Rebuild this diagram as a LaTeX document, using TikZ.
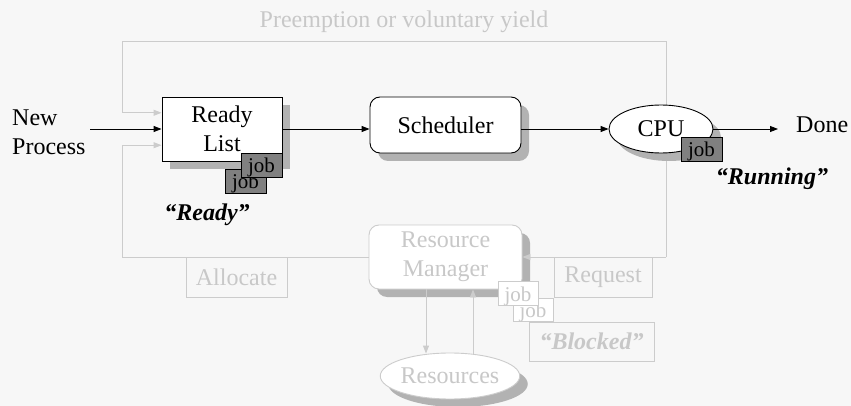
\documentclass[tikz,border=0pt]{standalone}
\usepackage{fontspec}
\setmainfont{Liberation Serif}
\usetikzlibrary{arrows.meta,shadows,calc,shapes.geometric}
\definecolor{bgc}{HTML}{F7F7F7}
\definecolor{faint}{HTML}{CCCCCC}
\definecolor{fainttext}{HTML}{C8C8C8}
\definecolor{shd}{HTML}{B2B2B2}
\definecolor{jobfill}{HTML}{808080}
\pgfdeclarelayer{bg}
\pgfdeclarelayer{wires}
\pgfsetlayers{bg,wires,main}

\begin{document}
\begin{tikzpicture}[x=1pt,y=-1pt,
  big/.style={font=\fontsize{24}{29}\selectfont},
  emph/.style={font=\fontsize{24}{29}\selectfont\bfseries\itshape},
  lbl/.style={big, inner sep=0pt},
  dropshd/.style={general shadow={fill=shd, shadow xshift=8pt, shadow yshift=-8pt}},
  procbox/.style={draw, line width=0.9pt, fill=white, big, align=center, inner sep=0pt, dropshd},
  fbox/.style={draw=faint, line width=0.9pt, fill=white, text=fainttext, big, align=center, inner sep=0pt},
  flabel/.style={draw=faint, line width=0.9pt, text=fainttext, big, inner sep=0pt},
  jobbox/.style={draw, line width=0.9pt, fill=jobfill, font=\fontsize{21}{21}\selectfont,
    inner sep=0pt, text height=16pt, text depth=0pt, minimum width=41, minimum height=24},
  fjob/.style={jobbox, draw=faint, fill=white, text=fainttext},
  arr/.style={line width=0.9pt, -{Triangle[length=8pt,width=6pt]}},
  farr/.style={draw=faint, line width=0.9pt, -{Triangle[length=8pt,width=6pt]}},
  fline/.style={draw=faint, line width=0.9pt}]

\begin{pgfonlayer}{bg}
  \fill[bgc] (0,0) rectangle (851,406);
\end{pgfonlayer}
\useasboundingbox (0,0) rectangle (851,406);

% main chain
\node[lbl, align=left, anchor=west] (np) at (12,132) {New\\Process};
\node[procbox, minimum width=120, minimum height=64] (rl) at (222,129) {Ready\\List};
\node[jobbox] (j2) at (245.5,181) {job};
\node[jobbox] (j1) at (261.5,165) {job};
\node[procbox, rounded corners=10pt, minimum width=151, minimum height=56] (sch) at (445.5,125) {Scheduler};
\node[procbox, ellipse, minimum width=104, minimum height=48] (cpu) at (661,129) {CPU};
\node[jobbox] (j3) at (701.5,149) {job};
\node[lbl, anchor=west] (done) at (796,125) {Done};
\coordinate (in) at (90,129);
\coordinate (out) at (778,129);

\node[lbl, emph, anchor=base] (rdy) at (207,220) {“Ready”};
\node[lbl, emph, anchor=base] (run) at (772,185) {“Running”};

\draw[arr] (in) -- (rl.west |- in);
\draw[arr] (rl.east |- in) -- (sch.west |- in);
\draw[arr] (sch.east |- cpu) -- (cpu.west);
\draw[arr] (cpu.east) -- (out);

% resource side
\node[lbl, text=fainttext, anchor=base] (pre) at (404,28) {Preemption or voluntary yield};
\node[fbox, rounded corners=10pt, dropshd, minimum width=153, minimum height=64] (rm) at (445.5,257) {Resource\\Manager};
\node[fbox, ellipse, dropshd, minimum width=126, minimum height=46] (res) at (450,376) {Resources};
\node[flabel, minimum width=101, minimum height=40] (alloc) at (236.5,277) {Allocate};
\node[flabel, minimum width=98, minimum height=40] (req) at (603,277) {Request};
\node[flabel, minimum width=125, minimum height=39, font=\fontsize{24}{29}\selectfont\bfseries\itshape] (blk) at (591.5,341.5) {“Blocked”};
\node[fjob, minimum width=40, minimum height=23] (fj2) at (533,309.5) {job};
\node[fjob, minimum width=40] (fj1) at (518,293) {job};

\coordinate (lt) at (122,41);
\coordinate (rt) at (666,41);
\coordinate (rb) at (666,257);
\coordinate (lb) at (122,257);
\coordinate (rlup) at ($(rl.north west)!0.25!(rl.south west)$);
\coordinate (rllo) at ($(rl.north west)!0.75!(rl.south west)$);

\begin{pgfonlayer}{wires}
  \draw[farr] (rb) -- (rt) -- (lt) -- (lt |- rlup) -- (rlup);
  \draw[farr] (rm.west) -- (lb) -- (lb |- rllo) -- (rllo);
\end{pgfonlayer}

\draw[farr] (rb) -- (rm.east |- rb);
\draw[farr] (rm.south -| 426,0) -- ($(res.north)+(-24,1)$);
\draw[farr] ($(res.north)+(23,1)$) -- (rm.south -| 473,0);
\end{tikzpicture}
\end{document}
